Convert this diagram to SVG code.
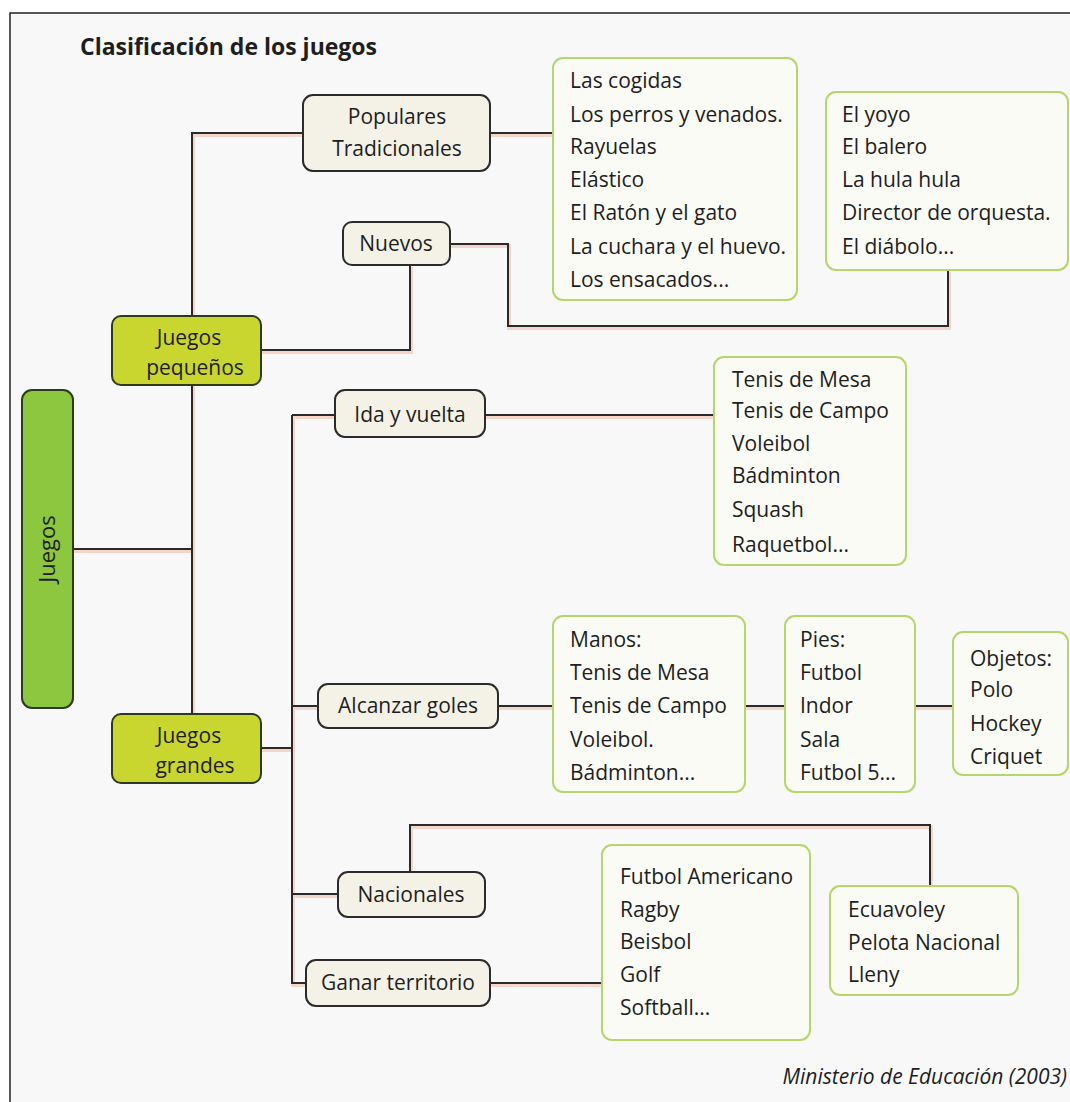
<svg xmlns="http://www.w3.org/2000/svg" width="1070" height="1102" viewBox="0 0 1070 1102">
<style>
.t{font-family:"Open Sans","Noto Sans",sans-serif;font-size:21px;fill:#1e1e1e}
.c{text-anchor:middle}
.main{fill:#8dc63f;stroke:#2d3a1e;stroke-width:2}
.lvl1{fill:#c9d62f;stroke:#2d3a1e;stroke-width:2}
.lvl2{fill:#f4f2e6;stroke:#2b2b2b;stroke-width:2}
.leaf{fill:#fbfbf6;stroke:#b5d66a;stroke-width:2}
.ln{fill:none;stroke:#2a2a2a;stroke-width:2}
.sh{fill:none;stroke:#f2c6b6;stroke-width:4;opacity:0.7}
</style>
<rect x="0" y="0" width="1070" height="1102" fill="#ffffff"/>
<rect x="10" y="13" width="1070" height="1100" fill="#f8f8f8" stroke="#222" stroke-width="1.5"/>
<text x="80" y="55" style="font-family:'Open Sans','Noto Sans',sans-serif;font-size:23px;font-weight:bold;fill:#1e1e1e">Clasificación de los juegos</text>

<g id="connectors">
<g class="sh" transform="translate(1,2)">
<path d="M73 549 H192 M303 133 H192 V714 M261 350 H410 V265 M450 244 H508 V326 H948 V270 M490 133 H553 M261 748 H292 M292 415 V983 H306 M292 415 H335 M292 706 H318 M292 894 H338 M485 415 H714 M498 706 H553 M745 706 H785 M915 706 H953 M490 983 H602 M410 872 V825 H930 V886"/>
</g>
<path class="ln" d="M73 549 H192 M303 133 H192 V714 M261 350 H410 V265 M450 244 H508 V326 H948 V270 M490 133 H553 M261 748 H292 M292 415 V983 H306 M292 415 H335 M292 706 H318 M292 894 H338 M485 415 H714 M498 706 H553 M745 706 H785 M915 706 H953 M490 983 H602 M410 872 V825 H930 V886"/>
</g>

<g id="juegos">
<rect class="main" x="22" y="390" width="51" height="318" rx="10"/>
<text class="t c" transform="translate(55 549) rotate(-90)" style="font-size:22px">Juegos</text>
</g>
<g id="juegos-pequenos">
<rect class="lvl1" x="112" y="316" width="149" height="69" rx="9"/>
<text class="t c" x="189" y="345">Juegos</text>
<text class="t c" x="195" y="375">pequeños</text>
</g>
<g id="juegos-grandes">
<rect class="lvl1" x="112" y="714" width="149" height="69" rx="9"/>
<text class="t c" x="189" y="743">Juegos</text>
<text class="t c" x="195" y="773">grandes</text>
</g>
<g id="populares">
<rect class="lvl2" x="303" y="95" width="187" height="76" rx="10"/>
<text class="t c" x="397" y="124">Populares</text>
<text class="t c" x="397" y="156">Tradicionales</text>
</g>
<g id="nuevos">
<rect class="lvl2" x="343" y="222" width="107" height="43" rx="9"/>
<text class="t c" x="396" y="251">Nuevos</text>
</g>
<g id="lista-populares">
<rect class="leaf" x="553" y="58" width="244" height="242" rx="10"/>
<text class="t" x="570" y="88">Las cogidas</text>
<text class="t" x="570" y="122">Los perros y venados.</text>
<text class="t" x="570" y="154">Rayuelas</text>
<text class="t" x="570" y="187">Elástico</text>
<text class="t" x="570" y="220">El Ratón y el gato</text>
<text class="t" x="570" y="254">La cuchara y el huevo.</text>
<text class="t" x="570" y="287">Los ensacados...</text>
</g>
<g id="lista-nuevos">
<rect class="leaf" x="826" y="92" width="242" height="178" rx="10"/>
<text class="t" x="842" y="122">El yoyo</text>
<text class="t" x="842" y="154">El balero</text>
<text class="t" x="842" y="187">La hula hula</text>
<text class="t" x="842" y="220">Director de orquesta.</text>
<text class="t" x="842" y="254">El diábolo...</text>
</g>
<g id="ida-vuelta">
<rect class="lvl2" x="335" y="390" width="150" height="47" rx="10"/>
<text class="t c" x="410" y="422">Ida y vuelta</text>
</g>
<g id="lista-ida">
<rect class="leaf" x="714" y="357" width="192" height="208" rx="10"/>
<text class="t" x="732" y="387">Tenis de Mesa</text>
<text class="t" x="732" y="418">Tenis de Campo</text>
<text class="t" x="732" y="451">Voleibol</text>
<text class="t" x="732" y="483">Bádminton</text>
<text class="t" x="732" y="517">Squash</text>
<text class="t" x="732" y="552">Raquetbol...</text>
</g>
<g id="alcanzar">
<rect class="lvl2" x="318" y="684" width="180" height="44" rx="10"/>
<text class="t c" x="408" y="713">Alcanzar goles</text>
</g>
<g id="manos">
<rect class="leaf" x="553" y="616" width="192" height="176" rx="10"/>
<text class="t" x="570" y="647">Manos:</text>
<text class="t" x="570" y="680">Tenis de Mesa</text>
<text class="t" x="570" y="713">Tenis de Campo</text>
<text class="t" x="570" y="747">Voleibol.</text>
<text class="t" x="570" y="780">Bádminton...</text>
</g>
<g id="pies">
<rect class="leaf" x="785" y="616" width="130" height="176" rx="10"/>
<text class="t" x="800" y="647">Pies:</text>
<text class="t" x="800" y="680">Futbol</text>
<text class="t" x="800" y="713">Indor</text>
<text class="t" x="800" y="747">Sala</text>
<text class="t" x="800" y="780">Futbol 5...</text>
</g>
<g id="objetos">
<rect class="leaf" x="953" y="632" width="115" height="143" rx="10"/>
<text class="t" x="970" y="666">Objetos:</text>
<text class="t" x="970" y="697">Polo</text>
<text class="t" x="970" y="731">Hockey</text>
<text class="t" x="970" y="764">Criquet</text>
</g>
<g id="nacionales">
<rect class="lvl2" x="338" y="872" width="147" height="45" rx="10"/>
<text class="t c" x="411" y="902">Nacionales</text>
</g>
<g id="ganar">
<rect class="lvl2" x="306" y="960" width="184" height="46" rx="10"/>
<text class="t c" x="398" y="990">Ganar territorio</text>
</g>
<g id="lista-ganar">
<rect class="leaf" x="602" y="845" width="208" height="195" rx="10"/>
<text class="t" x="620" y="884">Futbol Americano</text>
<text class="t" x="620" y="917">Ragby</text>
<text class="t" x="620" y="949">Beisbol</text>
<text class="t" x="620" y="982">Golf</text>
<text class="t" x="620" y="1015">Softball...</text>
</g>
<g id="lista-nacionales">
<rect class="leaf" x="830" y="886" width="188" height="109" rx="10"/>
<text class="t" x="848" y="917">Ecuavoley</text>
<text class="t" x="848" y="950">Pelota Nacional</text>
<text class="t" x="848" y="982">Lleny</text>
</g>
<text x="1067" y="1084" text-anchor="end" style="font-family:'Open Sans','Noto Sans',sans-serif;font-size:21px;font-style:italic;fill:#1e1e1e">Ministerio de Educación (2003)</text>
</svg>
